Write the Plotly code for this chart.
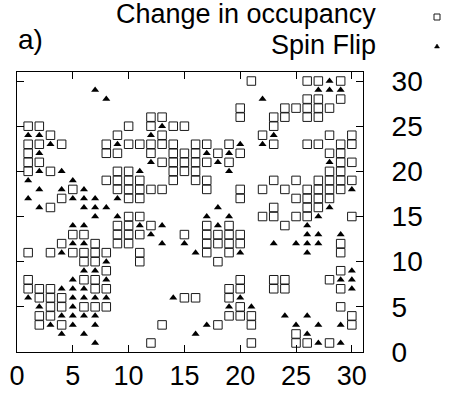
import plotly.graph_objects as go

# ---- data: "Change in occupancy" (open squares), listed row by row ----
occ_rows = {
    30: [21, 26, 27, 29],
    28: [26, 27, 29],
    27: [20, 24, 25, 26, 27, 28],
    26: [12, 13, 20, 23, 24, 26, 27],
    25: [1, 2, 10, 12, 14, 15, 23],
    24: [3, 9, 13, 22, 28, 30],
    23: [1, 2, 4, 8, 10, 11, 12, 13, 14, 16, 17, 19, 23, 26, 27, 29, 30],
    22: [1, 8, 9, 12, 14, 15, 16, 18, 20, 28, 29],
    21: [1, 2, 13, 14, 15, 16, 17, 19, 29, 30],
    20: [1, 3, 9, 10, 14, 15, 16, 28, 29],
    19: [8, 9, 10, 11, 14, 16, 17, 23, 25, 27, 28, 29, 30],
    18: [5, 9, 10, 11, 12, 13, 17, 20, 22, 24, 26, 27, 28, 29],
    17: [4, 10, 11, 20, 25, 26, 27, 28],
    16: [3, 23, 26, 27],
    15: [10, 11, 22, 23, 25, 26, 30],
    14: [9, 10, 12, 17, 19, 24],
    13: [5, 6, 9, 10, 11, 15, 17, 18, 19, 20],
    12: [4, 7, 9, 10, 17, 18, 19, 20, 29],
    11: [1, 3, 5, 6, 7, 8, 11, 17, 19, 29],
    10: [6, 7, 11, 18],
    9: [8, 29],
    8: [1, 6, 7, 20, 23, 24, 28],
    7: [1, 2, 3, 7, 8, 19, 20, 23, 24, 29],
    6: [2, 3, 4, 15, 16, 19],
    5: [3, 4, 6, 7, 8, 20, 29],
    4: [2, 3, 19, 20, 21, 30],
    3: [2, 4, 13, 18, 21, 30],
    2: [25],
    1: [12, 21, 25, 26, 28],
}

# ---- data: "Spin Flip" (filled triangles), listed row by row ----
flip_rows = {
    30: [28],
    29: [7, 27, 28, 29],
    28: [8, 22],
    25: [13],
    24: [1, 2, 12, 23],
    23: [3, 9, 20, 22],
    22: [2, 17, 19],
    21: [12, 18, 28],
    20: [2, 4, 11, 19],
    19: [1, 5],
    18: [2, 4, 6, 30],
    17: [1, 5, 6, 7, 9],
    16: [2, 6, 7, 8, 18, 28],
    15: [7, 9, 17, 19, 27],
    14: [5, 6, 11, 13, 18, 26],
    13: [12, 26, 27, 29],
    12: [5, 6, 13, 15, 23, 25, 26, 27],
    11: [4, 16, 20, 26],
    10: [8],
    9: [6, 7, 30],
    8: [5, 8, 29, 30],
    7: [4, 5, 6, 30],
    6: [1, 5, 6, 7, 8, 14, 20],
    5: [2, 5, 19, 21],
    4: [4, 5, 6, 7, 24, 26],
    3: [3, 5, 7, 17, 25, 27, 29],
    2: [4, 6, 16, 26],
    1: [7, 27, 29],
}

occ_x = [x for y, xs in occ_rows.items() for x in xs]
occ_y = [y for y, xs in occ_rows.items() for x in xs]
flip_x = [x for y, xs in flip_rows.items() for x in xs]
flip_y = [y for y, xs in flip_rows.items() for x in xs]

tick_vals = [0, 5, 10, 15, 20, 25, 30]
series_names = ["Change in occupancy", "Spin Flip"]
panel_label = "a)"

FONT = "Liberation Sans, Arial, sans-serif"
W, H = 450, 393
L, R, T, B = 17, 363, 72, 352  # plot frame in pixels


def px_x(px):
    return (px - L) / (R - L)


def px_y(py):
    return (B - py) / (B - T)


fig = go.Figure()
fig.add_trace(go.Scatter(
    x=occ_x, y=occ_y, mode="markers", name=series_names[0],
    marker=dict(symbol="square-open", size=8.5, color="#1a1a1a",
                line=dict(width=1, color="#1a1a1a")),
    cliponaxis=False,
))
fig.add_trace(go.Scatter(
    x=flip_x, y=flip_y, mode="markers", name=series_names[1],
    marker=dict(symbol="triangle-up", size=7, color="black",
                line=dict(width=0)),
    cliponaxis=False,
))

axis_common = dict(
    range=[0, 31], tickvals=tick_vals, ticks="inside", ticklen=7,
    tickwidth=1, tickcolor="black", mirror="allticks", showline=True,
    linecolor="black", linewidth=1, showgrid=False, zeroline=False,
    automargin=False,
)

fig.update_layout(
    width=W, height=H, autosize=False,
    margin=dict(l=L, r=W - R, t=T, b=H - B, pad=0),
    paper_bgcolor="white", plot_bgcolor="white",
    showlegend=False,
    xaxis=dict(**axis_common, ticklabelstandoff=0,
               tickfont=dict(family=FONT, size=27, color="black")),
    yaxis=dict(**axis_common, side="right", ticklabelstandoff=22,
               tickfont=dict(family=FONT, size=28, color="black")),
)

# legend (gnuplot style: text right-aligned, symbol on the right)
fig.add_annotation(text=series_names[0], xref="paper", yref="paper",
                   x=px_x(378), y=px_y(14), xanchor="right", yanchor="middle",
                   showarrow=False, font=dict(family=FONT, size=27, color="black"))
fig.add_annotation(text=series_names[1], xref="paper", yref="paper",
                   x=px_x(378), y=px_y(45), xanchor="right", yanchor="middle",
                   showarrow=False, font=dict(family=FONT, size=27, color="black"))
fig.add_annotation(text=panel_label, xref="paper", yref="paper",
                   x=px_x(16), y=px_y(40), xanchor="left", yanchor="middle",
                   showarrow=False, font=dict(family=FONT, size=28, color="black"))

# legend symbols
fig.add_shape(type="rect", xref="paper", yref="paper",
              x0=px_x(434), x1=px_x(440), y0=px_y(20), y1=px_y(14),
              line=dict(color="#1a1a1a", width=1), fillcolor="white")
fig.add_shape(type="path", xref="paper", yref="paper",
              path="M {:.4f} {:.4f} L {:.4f} {:.4f} L {:.4f} {:.4f} Z".format(
                  px_x(434.5), px_y(48), px_x(439.5), px_y(48), px_x(437), px_y(44)),
              line=dict(color="black", width=0.5), fillcolor="black")

fig.write_html("out.html")
